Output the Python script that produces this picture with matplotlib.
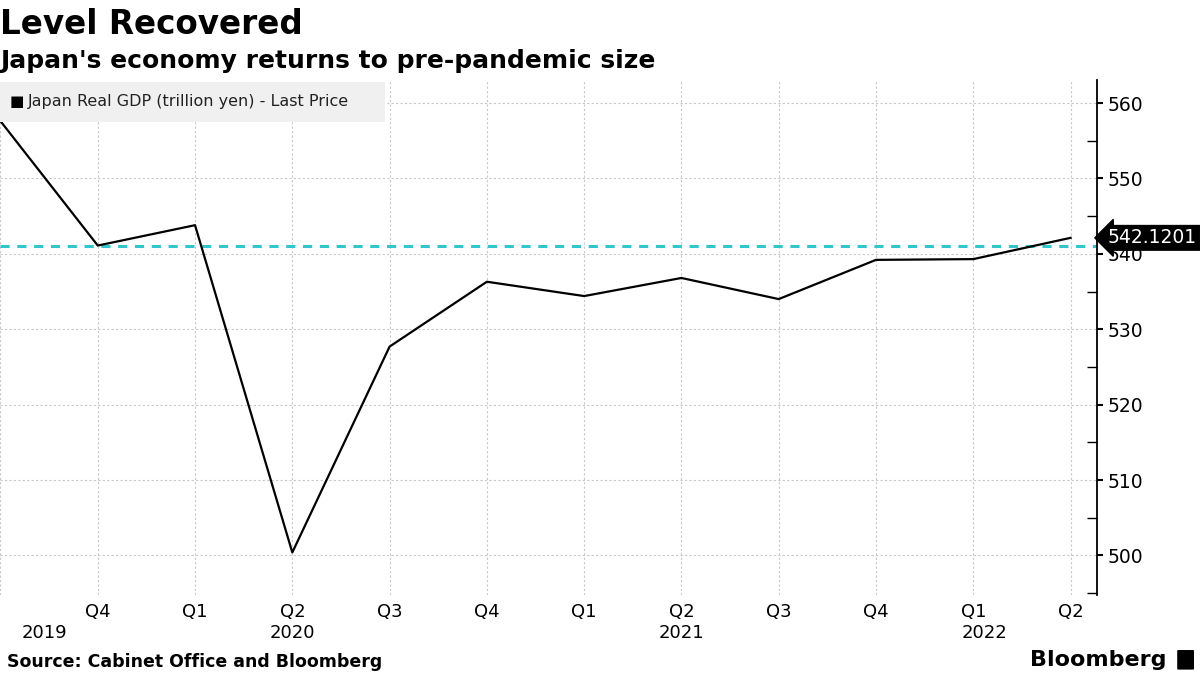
import matplotlib.pyplot as plt
from matplotlib.ticker import MultipleLocator
from matplotlib.patches import FancyBboxPatch

plt.rcParams["font.family"] = "DejaVu Sans"

quarters = ["Q3", "Q4", "Q1", "Q2", "Q3", "Q4", "Q1", "Q2", "Q3", "Q4", "Q1", "Q2"]
years = ["2019", "2020", "2021", "2022"]
year_pos = [0.45, 3, 7, 10.12]
gdp = [557.6, 541.1, 543.8, 500.4, 527.7, 536.3, 534.4, 536.8, 534.0, 539.2, 539.3, 542.1201]
pre_pandemic = 541.1
last_value = gdp[-1]

x = list(range(len(gdp)))

fig = plt.figure(figsize=(12, 6.75), dpi=100)
ax = fig.add_axes([0.0, 0.119, 0.914, 0.763])

ax.plot(x, gdp, color="black", lw=1.6, zorder=3)
ax.axhline(pre_pandemic, color="#2ec8cc", lw=2.2, ls=(0, (3, 2.5)), zorder=2)

ax.set_xlim(-0.005, 11.27)
ax.set_ylim(494.8, 563.1)

ax.yaxis.tick_right()
ax.yaxis.set_major_locator(MultipleLocator(10))
ax.yaxis.set_minor_locator(MultipleLocator(5))
ax.tick_params(axis="y", which="major", direction="out", length=4, width=1.5,
               labelsize=13.5, pad=4)
ax.tick_params(axis="y", which="minor", direction="in", length=7, width=1)
ax.set_yticks([500, 510, 520, 530, 540, 550, 560])

ax.set_xticks(x[1:])
ax.set_xticklabels(quarters[1:])
ax.tick_params(axis="x", length=0, labelsize=13, pad=6)

for s in ["top", "left", "bottom"]:
    ax.spines[s].set_visible(False)
ax.spines["right"].set_linewidth(1.3)

ax.grid(True, which="major", ls=(0, (2, 2)), color="#c8c8c8", lw=0.8)
ax.set_axisbelow(True)
ax.set_xticks([0], minor=True)
ax.tick_params(axis="x", which="minor", length=0)
ax.grid(True, which="minor", axis="x", ls=(0, (2, 2)), color="#c8c8c8", lw=0.8)

for yr, pos in zip(years, year_pos):
    ax.text(pos, -0.056, yr, transform=ax.get_xaxis_transform(), ha="center",
            va="top", fontsize=13)

# legend box
leg = FancyBboxPatch((0.0, 0.819), 0.321, 0.06, boxstyle="square,pad=0",
                     transform=fig.transFigure, facecolor="#f0f0f0",
                     edgecolor="none", zorder=5)
fig.patches.append(leg)
fig.text(0.008, 0.849, "\u25a0", fontsize=11, va="center", ha="left", zorder=6)
fig.text(0.023, 0.849, "Japan Real GDP (trillion yen) - Last Price",
         fontsize=11.5, va="center", ha="left", color="#222222", zorder=6)

# last price tag
ax.annotate(f"{last_value:.4f}", xy=(1.0, last_value), xycoords=("axes fraction", "data"),
            xytext=(8, 0), textcoords="offset points", ha="left", va="center",
            fontsize=13.5, color="white", annotation_clip=False,
            bbox=dict(boxstyle="larrow,pad=0.15", fc="black", ec="black"))

fig.text(0.0, 0.988, "Level Recovered", fontsize=23.5, fontweight="bold",
         va="top", ha="left")
fig.text(0.0, 0.928, "Japan's economy returns to pre-pandemic size", fontsize=18,
         fontweight="bold", va="top", ha="left")
fig.text(0.006, 0.019, "Source: Cabinet Office and Bloomberg", fontsize=12.5,
         fontweight="bold", va="center", ha="left")
fig.text(0.972, 0.022, "Bloomberg", fontsize=16, fontweight="bold",
         va="center", ha="right")
icon = FancyBboxPatch((0.982, 0.009), 0.012, 0.027, boxstyle="round,pad=0.001",
                      transform=fig.transFigure, facecolor="black", edgecolor="none")
fig.patches.append(icon)

fig.savefig("out.png", dpi=100)
